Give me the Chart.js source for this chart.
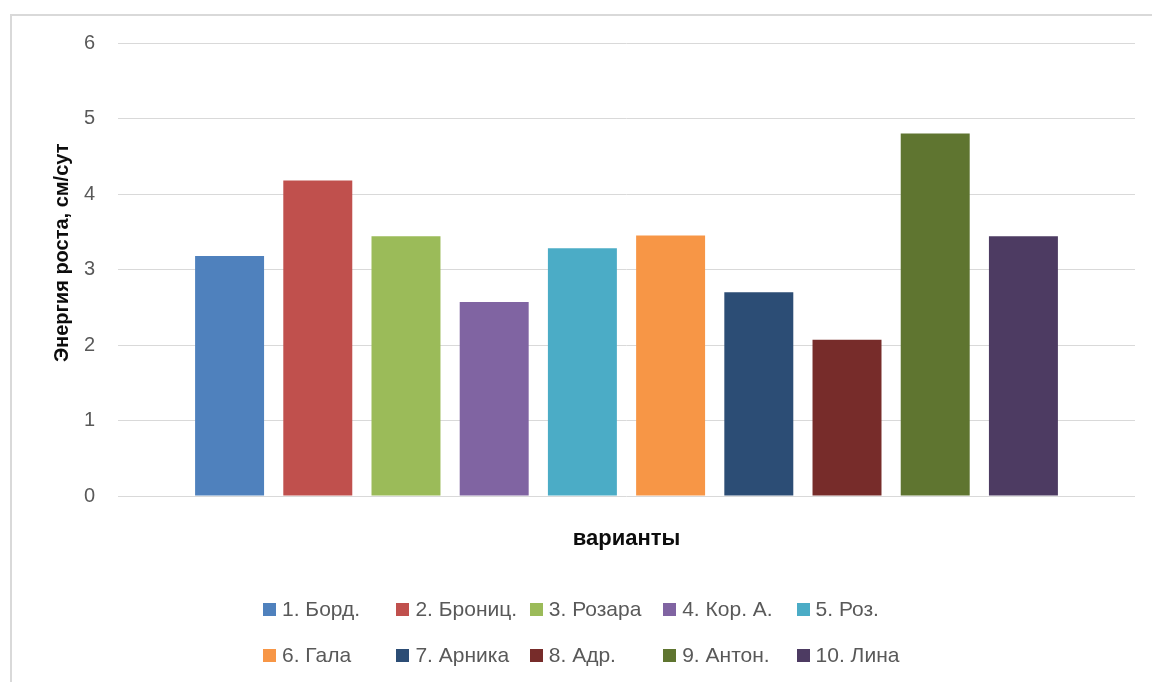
<!DOCTYPE html>
<html>
<head>
<meta charset="utf-8">
<script src="https://cdn.jsdelivr.net/npm/chart.js@4.4.1/dist/chart.umd.min.js"></script>
<style>
  html, body { margin: 0; padding: 0; background: #ffffff; }
  #wrap { position: relative; width: 1152px; height: 682px; overflow: hidden; background: #fff; }
  #frame { position: absolute; left: 10px; top: 14px; width: 1200px; height: 720px; border: 2px solid #d9d9d9; box-sizing: border-box; pointer-events: none; }
  #chart { position: absolute; left: 0; top: 0; }
  #legend { position: absolute; left: 0; top: 0; width: 1152px; height: 682px; pointer-events: none;
            font-family: "Liberation Sans", Arial, sans-serif; font-size: 21px; color: #595959; }
  .li { position: absolute; height: 24px; display: flex; align-items: center; white-space: nowrap; }
  .li .bx { width: 13px; height: 13px; margin-right: 6px; flex: none; }
</style>
</head>
<body>
<div id="wrap">
  <div id="frame"></div>
  <canvas id="chart" width="1152" height="682"></canvas>
  <div id="legend"></div>
</div>
<script>
// ---- data ----
const categories = [''];
const seriesNames = ['1. Борд.', '2. Брониц.', '3. Розара', '4. Кор. А.', '5. Роз.',
                     '6. Гала', '7. Арника', '8. Адр.', '9. Антон.', '10. Лина'];
const seriesValues = [3.18, 4.18, 3.44, 2.57, 3.28, 3.45, 2.70, 2.07, 4.80, 3.44];
const seriesColors = ['#4F81BD', '#C0504D', '#9BBB59', '#8064A2', '#4BACC6',
                      '#F79646', '#2C4D75', '#772C2A', '#5F7530', '#4D3B62'];
const yTickMin = 0;
const yTickMax = 6;
const yTickStep = 1;
const yTitle = 'Энергия роста, см/сут';
const xTitle = 'варианты';

const datasets = seriesNames.map((name, i) => ({
  label: name,
  data: [seriesValues[i]],
  backgroundColor: seriesColors[i],
  borderWidth: 0,
  categoryPercentage: 0.8673,
  barPercentage: 0.782
}));

const htmlLegend = {
  id: 'htmlLegend',
  afterUpdate(chart) {
    const box = document.getElementById('legend');
    box.innerHTML = '';
    const items = chart.options.plugins.legend.labels.generateLabels(chart);
    items.forEach((it, i) => {
      const col = i % 5, row = Math.floor(i / 5);
      const d = document.createElement('div');
      d.className = 'li';
      d.style.left = (263 + col * 133.4) + 'px';
      d.style.top = (597 + row * 46) + 'px';
      const b = document.createElement('span');
      b.className = 'bx';
      b.style.background = it.fillStyle;
      const t = document.createElement('span');
      t.textContent = it.text;
      d.appendChild(b); d.appendChild(t);
      box.appendChild(d);
    });
  }
};

new Chart(document.getElementById('chart'), {
  type: 'bar',
  data: { labels: categories, datasets: datasets },
  plugins: [htmlLegend],
  options: {
    responsive: false,
    animation: false,
    layout: { padding: { top: 43, right: 17, bottom: 0, left: 0 } },
    plugins: {
      legend: { display: false },
      tooltip: { enabled: false }
    },
    scales: {
      x: {
        grid: { display: false, drawTicks: false },
        border: { display: false },
        ticks: { display: false },
        title: {
          display: true,
          text: xTitle,
          color: '#0d0d0d',
          font: { family: '"Liberation Sans", Arial, sans-serif', size: 22, weight: 'bold', lineHeight: 1.2 },
          padding: { top: 0, bottom: 130 }
        },
        afterFit(scale) { scale.height = 186; }
      },
      y: {
        min: yTickMin,
        max: yTickMax,
        grid: { color: '#d9d9d9', lineWidth: 1, drawTicks: false },
        border: { display: false },
        ticks: {
          stepSize: yTickStep,
          padding: 23,
          color: '#595959',
          font: { family: '"Liberation Sans", Arial, sans-serif', size: 20 }
        },
        title: {
          display: true,
          text: '      ' + yTitle,
          color: '#0d0d0d',
          font: { family: '"Liberation Sans", Arial, sans-serif', size: 20, weight: 'bold', lineHeight: 1.2 },
          padding: { top: 50, bottom: 0 }
        },
        afterFit(scale) { scale.width = 118; }
      }
    }
  }
});
</script>
</body>
</html>
